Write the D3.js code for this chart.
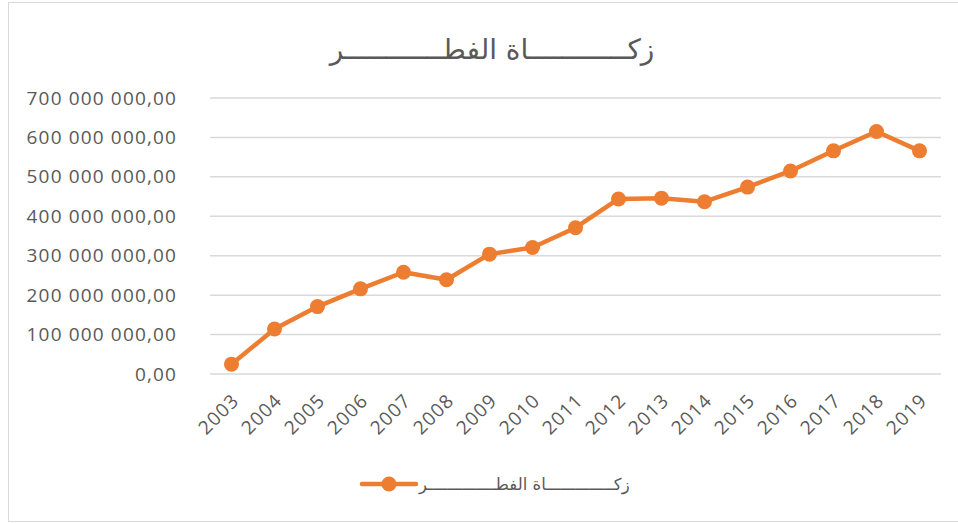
<!DOCTYPE html>
<html>
<head>
<meta charset="utf-8">
<script src="https://cdn.jsdelivr.net/npm/d3@7"></script>
<style>
  body { margin: 0; background: #fff; }
  text { font-family: "Open Sans", "DejaVu Sans", sans-serif; fill: #595959; }
</style>
</head>
<body>
<div id="chart"></div>
<script>
// values
const years = ["2003", "2004", "2005", "2006", "2007", "2008", "2009", "2010", "2011",
  "2012", "2013", "2014", "2015", "2016", "2017", "2018", "2019"];
const zakat = [25e6, 114e6, 171e6, 216e6, 258e6, 239e6, 304e6, 321e6, 371e6,
  444e6, 446e6, 437e6, 474e6, 515e6, 566e6, 615e6, 566e6];
const yTicks = [0, 1e8, 2e8, 3e8, 4e8, 5e8, 6e8, 7e8];
const title = "زكــــــــــــاة الفطــــــــــــر";
const legendLabel = "زكــــــــــــــاة الفطــــــــــــــر";

function createPlot() {
  const W = 958, H = 523;
  const margin = { top: 98, right: 17, bottom: 149, left: 210 };
  const width = W - margin.left - margin.right;
  const height = H - margin.top - margin.bottom;

  const svg = d3.select("#chart").append("svg")
      .attr("width", W)
      .attr("height", H);

  // chart border
  svg.append("rect")
      .attr("x", 8.5).attr("y", 2.5)
      .attr("width", W).attr("height", H - 4)
      .style("fill", "none")
      .style("stroke", "#d9d9d9")
      .style("stroke-width", 1);

  const g = svg.append("g")
      .attr("transform", `translate(${margin.left},${margin.top})`);

  const xScale = d3.scaleBand().domain(years).range([0, width]);
  const yScale = d3.scaleLinear().domain([0, 7e8]).range([height, 0]);

  // --- gridlines ---
  g.selectAll(".grid")
      .data(yTicks)
      .join("line")
      .attr("x1", 0).attr("x2", width)
      .attr("y1", d => yScale(d)).attr("y2", d => yScale(d))
      .style("stroke", "#d9d9d9")
      .style("stroke-width", 1.5);

  // --- y axis labels ---
  const fmt = d => d3.format(",.2f")(d).replace(/,/g, " ").replace(".", ",");
  const yAxis = g.append("g")
      .call(d3.axisLeft(yScale).tickValues(yTicks).tickFormat(fmt).tickSize(0).tickPadding(33));
  yAxis.select(".domain").remove();
  yAxis.selectAll("text")
      .style("font-size", "19px")
      .style("letter-spacing", "1.15px")
      .style("fill", "#595959")
      .style("font-family", "'Open Sans', sans-serif");

  // --- x axis labels ---
  const xAxis = g.append("g")
      .attr("transform", `translate(0,${height})`)
      .call(d3.axisBottom(xScale).tickSize(0).tickPadding(0));
  xAxis.select(".domain").remove();
  xAxis.selectAll("text")
      .attr("transform", "translate(4,23) rotate(-45)")
      .attr("dy", "0.35em")
      .style("text-anchor", "end")
      .style("font-size", "19px")
      .style("letter-spacing", "1.15px")
      .style("fill", "#595959")
      .style("font-family", "'Open Sans', sans-serif");

  // --- line and markers ---
  const cx = (d, i) => xScale(years[i]) + xScale.bandwidth() / 2;
  const line = d3.line()
      .x(cx)
      .y(d => yScale(d));

  g.append("path")
      .datum(zakat)
      .attr("d", line)
      .style("fill", "none")
      .style("stroke", "#ed7d31")
      .style("stroke-width", 4.5)
      .style("stroke-linejoin", "round");

  g.selectAll(".pt")
      .data(zakat)
      .join("circle")
      .attr("cx", cx)
      .attr("cy", d => yScale(d))
      .attr("r", 7.5)
      .style("fill", "#ed7d31");

  // --- title ---
  svg.append("text")
      .attr("x", 492)
      .attr("y", 59)
      .style("text-anchor", "middle")
      .style("font-family", "'DejaVu Sans', sans-serif")
      .style("font-size", "28px")
      .attr("direction", "rtl")
      .text(title);

  // --- legend ---
  const lg = svg.append("g").attr("transform", "translate(362,484)");
  lg.append("line")
      .attr("x1", 0).attr("x2", 54)
      .style("stroke", "#ed7d31")
      .style("stroke-width", 4.5)
      .style("stroke-linecap", "round");
  lg.append("circle")
      .attr("cx", 27).attr("r", 7.5)
      .style("fill", "#ed7d31");
  lg.append("text")
      .attr("x", 57)
      .attr("y", 6)
      .style("font-family", "'DejaVu Sans', sans-serif")
      .style("font-size", "16.5px")
      .text(legendLabel);
}

document.addEventListener("DOMContentLoaded", () => {
  createPlot();
});
</script>
</body>
</html>
